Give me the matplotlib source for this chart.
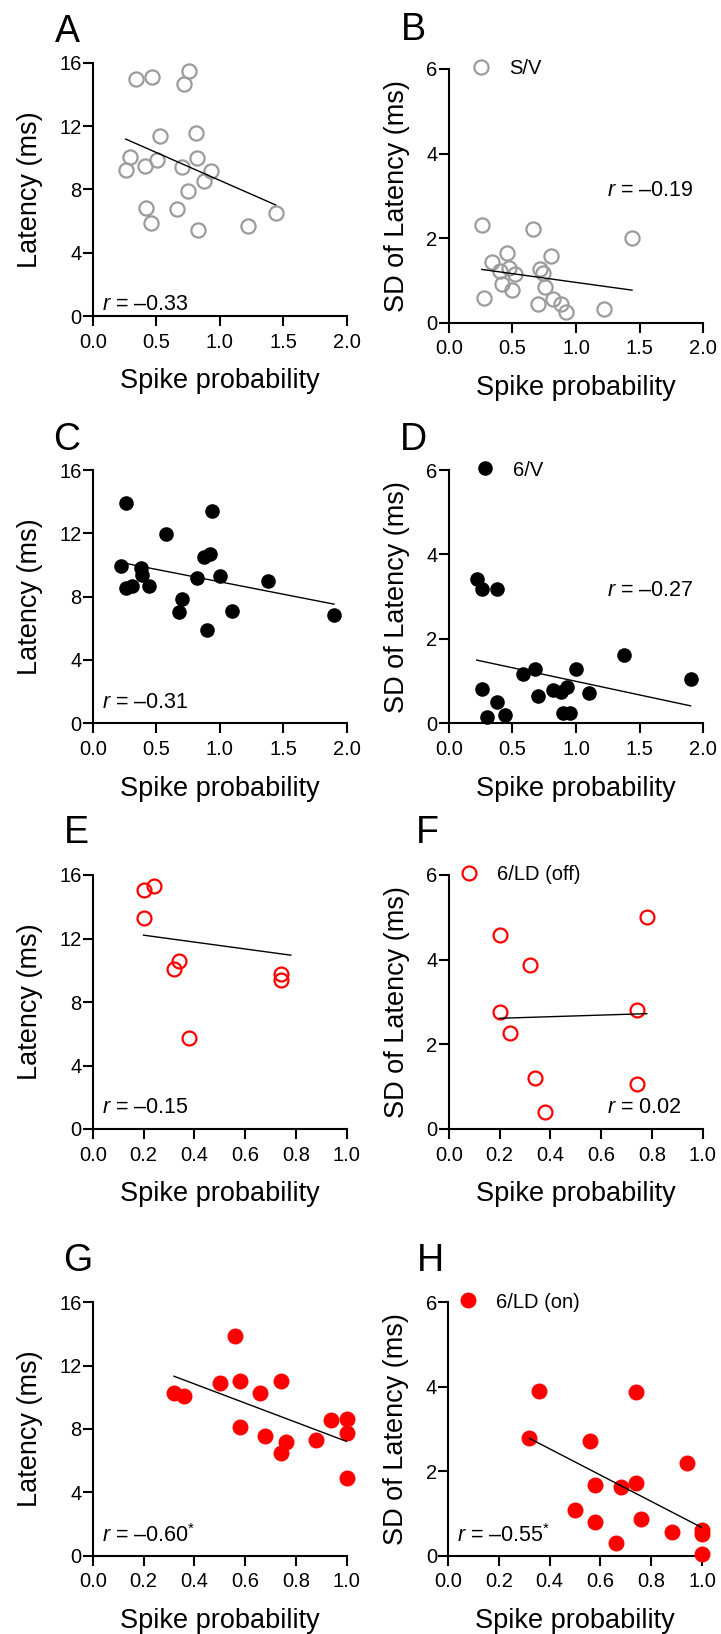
import numpy as np
import matplotlib
matplotlib.use("Agg")
import matplotlib.pyplot as plt
from matplotlib.lines import Line2D

plt.rcParams['font.family'] = ['Liberation Sans', 'DejaVu Sans']
plt.rcParams['mathtext.fontset'] = 'custom'
plt.rcParams['mathtext.rm'] = 'Liberation Sans'
plt.rcParams['mathtext.it'] = 'Liberation Sans:italic'

# ---- data ----
# S/V
sv_prob = [0.34, 0.47, 0.76, 0.72, 0.53, 0.81, 0.29, 0.26, 0.41, 0.51, 0.82,
           0.70, 0.93, 0.88, 0.75, 0.42, 0.46, 0.66, 0.83, 1.22, 1.44]
sv_lat = [15.0, 15.1, 15.45, 14.65, 11.4, 11.55, 10.05, 9.2, 9.5, 9.85, 9.95,
          9.4, 9.15, 8.55, 7.9, 6.85, 5.9, 6.75, 5.45, 5.7, 6.5]
sv_prob_sd = [0.26, 0.66, 1.44, 0.46, 0.80, 0.34, 0.40, 0.47, 0.52, 0.72, 0.74,
              0.42, 0.50, 0.76, 0.28, 0.82, 0.70, 0.88, 0.92, 1.22]
sv_sd = [2.30, 2.21, 2.01, 1.64, 1.58, 1.43, 1.22, 1.30, 1.14, 1.28, 1.17,
         0.91, 0.77, 0.85, 0.58, 0.55, 0.44, 0.44, 0.26, 0.32]

# 6/V
v6_prob = [0.26, 0.94, 0.58, 0.92, 0.88, 0.22, 0.38, 0.39, 0.82, 1.00,
           1.38, 0.26, 0.31, 0.44, 0.70, 0.68, 1.10, 0.90, 1.90]
v6_lat = [13.9, 13.4, 11.95, 10.7, 10.5, 9.95, 9.8, 9.35, 9.15, 9.3,
          9.0, 8.55, 8.65, 8.65, 7.85, 7.05, 7.1, 5.9, 6.85]
v6_prob_sd = [0.22, 0.26, 0.38, 1.38, 1.90, 0.58, 0.68, 1.00, 0.26, 0.82,
              0.88, 0.93, 1.10, 0.70, 0.38, 0.30, 0.44, 0.90, 0.95]
v6_sd = [3.41, 3.17, 3.19, 1.62, 1.04, 1.17, 1.28, 1.28, 0.81, 0.79,
         0.73, 0.85, 0.71, 0.65, 0.51, 0.16, 0.20, 0.25, 0.25]

# 6/LD (off)
off_prob = [0.20, 0.24, 0.20, 0.34, 0.32, 0.74, 0.74, 0.38]
off_lat = [15.05, 15.3, 13.3, 10.6, 10.05, 9.75, 9.4, 5.75]
off_prob_sd = [0.20, 0.78, 0.32, 0.20, 0.74, 0.24, 0.34, 0.74, 0.38]
off_sd = [4.59, 5.0, 3.87, 2.76, 2.81, 2.26, 1.20, 1.06, 0.39]

# 6/LD (on)
on_prob = [0.56, 0.32, 0.36, 0.50, 0.58, 0.66, 0.74, 0.58, 0.68, 0.76,
           0.74, 0.88, 0.94, 1.00, 1.00, 1.00]
on_lat = [13.85, 10.3, 10.1, 10.9, 11.05, 10.25, 11.0, 8.1, 7.55, 7.15,
          6.5, 7.3, 8.55, 8.65, 7.75, 4.9]
on_prob_sd = [0.36, 0.74, 0.32, 0.56, 0.94, 0.58, 0.68, 0.74, 0.50, 0.58,
              0.76, 0.88, 1.00, 1.00, 0.66, 1.00]
on_sd = [3.90, 3.86, 2.78, 2.71, 2.20, 1.67, 1.63, 1.71, 1.09, 0.79,
         0.87, 0.55, 0.61, 0.51, 0.30, 0.04]

# regression lines as printed where some points fall off the axes
# (panel index -> (x ends, y ends)); others are fitted from the points
fit_read = {1: ([0.26, 1.44], [1.26, 0.77]),
            4: ([0.20, 0.78], [12.21, 10.95])}

r_texts = ['$\\it{r}$ = \u20130.33', '$\\it{r}$ = \u20130.19',
           '$\\it{r}$ = \u20130.31', '$\\it{r}$ = \u20130.27',
           '$\\it{r}$ = \u20130.15', '$\\it{r}$ = 0.02',
           '$\\it{r}$ = \u20130.60$^{*}$', '$\\it{r}$ = \u20130.55$^{*}$']
letters = ['A', 'B', 'C', 'D', 'E', 'F', 'G', 'H']
legend_names = ['S/V', '6/V', '6/LD (off)', '6/LD (on)']

GRAY = '#9c9c9c'
RED = '#ff0000'

W, H = 721, 1634
fig = plt.figure(figsize=(W / 100, H / 100), dpi=100)


def make_ax(l, r, t, b):
    return fig.add_axes([l / W, 1 - b / H, (r - l) / W, (b - t) / H])


# axes boxes in pixels (left, right, top, bottom)
boxes = [(92.7, 346.7, 62.7, 316), (448.7, 703.3, 69, 322.7),
         (92.7, 346.7, 470, 723.3), (448.7, 703.3, 470, 723.3),
         (92.7, 346.7, 875, 1129), (448.7, 702.7, 875, 1129),
         (92.7, 346.7, 1302.3, 1555.7), (448, 702, 1302, 1555.7)]

series = [(sv_prob, sv_lat), (sv_prob_sd, sv_sd),
          (v6_prob, v6_lat), (v6_prob_sd, v6_sd),
          (off_prob, off_lat), (off_prob_sd, off_sd),
          (on_prob, on_lat), (on_prob_sd, on_sd)]

styles = [dict(mfc='none', mec=GRAY, ms=10.2, mew=1.6),
          dict(mfc='black', mec='black', ms=10.5, mew=0),
          dict(mfc='none', mec=RED, ms=10, mew=1.6),
          dict(mfc=RED, mec=RED, ms=11.5, mew=0)]

r_pos = [(0.035, 0.024), (0.62, 0.50), (0.035, 0.059), (0.62, 0.503),
         (0.035, 0.062), (0.624, 0.062), (0.035, 0.053), (0.037, 0.053)]
letter_pos = [(55, 42), (401, 40), (53, 450), (400, 450),
              (64, 843), (416, 843), (63, 1271), (417, 1271)]
legend_x = [0.0864, 0.103, 0.0385, 0.04]

for i in range(8):
    ax = make_ax(*boxes[i])
    x, y = series[i]
    st = styles[i // 2]
    ax.plot(x, y, 'o', linestyle='none', zorder=3, clip_on=False, **st)
    # linear regression line
    if i in fit_read:
        xx, yy = fit_read[i]
    else:
        k, c = np.polyfit(x, y, 1)
        xx = np.array([min(x), max(x)])
        yy = k * xx + c
    ax.plot(xx, yy, color='black', lw=1.0, zorder=4)

    if i < 4:
        ax.set_xlim(0, 2)
        ax.set_xticks([0, 0.5, 1.0, 1.5, 2.0])
    else:
        ax.set_xlim(0, 1)
        ax.set_xticks([0, 0.2, 0.4, 0.6, 0.8, 1.0])
    ax.xaxis.set_major_formatter(matplotlib.ticker.FormatStrFormatter('%.1f'))
    if i % 2 == 0:
        ax.set_ylim(0, 16)
        ax.set_yticks([0, 4, 8, 12, 16])
        ax.set_ylabel('Latency (ms)', fontsize=19.5)
        ax.yaxis.set_label_coords(-0.194, 0.5)
    else:
        ax.set_ylim(0, 6)
        ax.set_yticks([0, 2, 4, 6])
        ax.set_ylabel('SD of Latency (ms)', fontsize=19.5)
        ax.yaxis.set_label_coords(-0.152, 0.5)
        h = Line2D([], [], marker='o', linestyle='none', **st)
        ax.legend([h], [legend_names[i // 2]], loc='center left',
                  bbox_to_anchor=(legend_x[i // 2], 1.0), frameon=False,
                  fontsize=14.5, handlelength=1.0, handletextpad=0.9,
                  borderpad=0, borderaxespad=0)
    ax.set_xlabel('Spike probability', fontsize=19.5, labelpad=12)

    for s in ['top', 'right']:
        ax.spines[s].set_visible(False)
    for s in ['left', 'bottom']:
        ax.spines[s].set_linewidth(1.5)
    ax.tick_params(axis='both', width=1.5, length=7, labelsize=14.5)
    ax.tick_params(axis='x', pad=5)
    ax.tick_params(axis='y', pad=1)

    ax.text(r_pos[i][0], r_pos[i][1], r_texts[i], transform=ax.transAxes,
            fontsize=15.5, va='baseline', ha='left')

    lx, ly = letter_pos[i]
    fig.text(lx / W, 1 - ly / H, letters[i], fontsize=27, va='baseline',
             ha='left')

fig.savefig('out.png', dpi=100)
